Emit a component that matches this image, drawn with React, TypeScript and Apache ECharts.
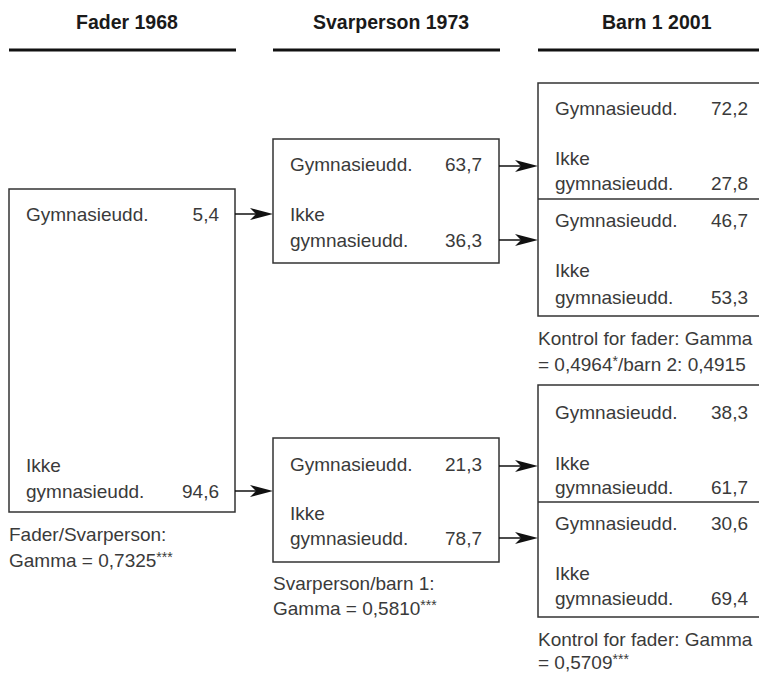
import React, { useEffect, useRef } from "react";
import * as echarts from "echarts";

// ---- data ----
const columnHeaders = ["Fader 1968", "Svarperson 1973", "Barn 1 2001"];
const categoryLabels = ["Gymnasieudd.", "Ikke", "gymnasieudd."];
const faderValues = [5.4, 94.6];
const svarpersonGivenGymValues = [63.7, 36.3];
const svarpersonGivenIkkeValues = [21.3, 78.7];
const barnGivenGymGymValues = [72.2, 27.8];
const barnGivenGymIkkeValues = [46.7, 53.3];
const barnGivenIkkeGymValues = [38.3, 61.7];
const barnGivenIkkeIkkeValues = [30.6, 69.4];
const captionFader = ["Fader/Svarperson:", "Gamma = 0,7325***"];
const captionSvarperson = ["Svarperson/barn 1:", "Gamma = 0,5810***"];
const captionBarnTop = ["Kontrol for fader: Gamma", "= 0,4964*/barn 2: 0,4915"];
const captionBarnBottom = ["Kontrol for fader: Gamma", "= 0,5709***"];

const fmt = (v: number) => v.toFixed(1).replace(".", ",");

const FONT = "'Liberation Sans', Arial, Helvetica, sans-serif";
const TEXT_COLOR = "#3a3a3a";
const LINE_COLOR = "#333333";

function txt(text: string, x: number, y: number, align: string = "left", opts: any = {}) {
  return {
    type: "text",
    x,
    y,
    silent: true,
    style: {
      text,
      fill: opts.fill || TEXT_COLOR,
      fontSize: opts.fontSize || 19,
      fontFamily: FONT,
      fontWeight: opts.fontWeight || "normal",
      textAlign: align,
      align,
      textVerticalAlign: "middle",
      verticalAlign: "middle",
    },
  };
}

// caption text with superscript asterisks
function captionTxt(text: string, x: number, y: number) {
  const parts = text.split(/(\*+)/).filter((p) => p.length);
  const formatted = parts
    .map((p) => (/^\*+$/.test(p) ? `{sup|${p}}` : `{n|${p}}`))
    .join("");
  return {
    type: "text",
    x,
    y,
    silent: true,
    style: {
      text: formatted,
      fill: TEXT_COLOR,
      fontSize: 19,
      fontFamily: FONT,
      textAlign: "left",
      align: "left",
      textVerticalAlign: "middle",
      verticalAlign: "middle",
      rich: {
        n: { fontSize: 19, fontFamily: FONT, fill: TEXT_COLOR, color: TEXT_COLOR, lineHeight: 20, verticalAlign: "bottom" },
        sup: {
          fontSize: 14,
          fontFamily: FONT,
          fill: TEXT_COLOR,
          color: TEXT_COLOR,
          lineHeight: 20,
          verticalAlign: "top",
        },
      },
    },
  };
}

function rect(x: number, y: number, w: number, h: number) {
  return {
    type: "rect",
    silent: true,
    shape: { x, y, width: w, height: h },
    style: { fill: "#ffffff", stroke: LINE_COLOR, lineWidth: 1.5 },
  };
}

function hline(x1: number, x2: number, y: number, w = 1.5, color = LINE_COLOR) {
  return {
    type: "line",
    silent: true,
    shape: { x1, y1: y, x2, y2: y },
    style: { stroke: color, lineWidth: w },
  };
}

function arrow(x1: number, x2: number, y: number) {
  return [
    hline(x1, x2 - 14, y, 1.5, "#111"),
    {
      type: "polygon",
      silent: true,
      shape: {
        points: [
          [x2, y],
          [x2 - 23, y - 6],
          [x2 - 17, y],
          [x2 - 23, y + 6],
        ],
      },
      style: { fill: "#111" },
    },
  ];
}

// rows: [gymY, ikkeY, gym2Y]
function rowTexts(values: number[], xl: number, xr: number, ys: number[]) {
  return [
    txt(categoryLabels[0], xl, ys[0]),
    txt(fmt(values[0]), xr, ys[0], "right"),
    txt(categoryLabels[1], xl, ys[1]),
    txt(categoryLabels[2], xl, ys[2]),
    txt(fmt(values[1]), xr, ys[2], "right"),
  ];
}

function buildGraphics() {
  const els: any[] = [];
  // headers
  const headerX = [76, 313, 602];
  const lineX = [
    [9, 236],
    [273, 500],
    [538, 760],
  ];
  columnHeaders.forEach((h, i) => {
    els.push(txt(h, headerX[i], 22, "left", { fontWeight: "bold", fontSize: 19.5, fill: "#1a1a1a" }));
    els.push(hline(lineX[i][0], lineX[i][1], 50, 3, "#111"));
  });

  // left box
  els.push(rect(9, 189, 226, 323));
  els.push(...rowTexts(faderValues, 26, 219, [214, 465, 491]));
  els.push(...arrow(235, 273, 214));
  els.push(...arrow(235, 273, 491));
  els.push(captionTxt(captionFader[0], 9, 534));
  els.push(captionTxt(captionFader[1], 9, 560));

  // middle boxes
  els.push(rect(273, 139, 226, 124));
  els.push(...rowTexts(svarpersonGivenGymValues, 290, 482, [164, 214, 240]));
  els.push(...arrow(499, 538, 166));
  els.push(...arrow(499, 538, 240));

  els.push(rect(273, 438, 226, 124));
  els.push(...rowTexts(svarpersonGivenIkkeValues, 290, 482, [464, 513, 538]));
  els.push(...arrow(499, 538, 466));
  els.push(...arrow(499, 538, 538));
  els.push(captionTxt(captionSvarperson[0], 273, 583));
  els.push(captionTxt(captionSvarperson[1], 273, 608));

  // right boxes
  els.push(rect(538, 83, 240, 233));
  els.push(hline(538, 760, 199));
  els.push(...rowTexts(barnGivenGymGymValues, 555, 748, [108, 158, 183]));
  els.push(...rowTexts(barnGivenGymIkkeValues, 555, 748, [220, 270, 297]));
  els.push(captionTxt(captionBarnTop[0], 538, 338));
  els.push(captionTxt(captionBarnTop[1], 538, 364));

  els.push(rect(538, 385, 240, 232));
  els.push(hline(538, 760, 502));
  els.push(...rowTexts(barnGivenIkkeGymValues, 555, 748, [412, 463, 487]));
  els.push(...rowTexts(barnGivenIkkeIkkeValues, 555, 748, [523, 573, 598]));
  els.push(captionTxt(captionBarnBottom[0], 538, 639));
  els.push(captionTxt(captionBarnBottom[1], 538, 662));

  return els;
}

export default function App() {
  const ref = useRef<HTMLDivElement>(null);
  useEffect(() => {
    if (!ref.current) return;
    const chart = echarts.init(ref.current, undefined, { renderer: "svg" });
    chart.setOption({
      animation: false,
      backgroundColor: "#ffffff",
      graphic: { elements: buildGraphics() },
    });
    return () => chart.dispose();
  }, []);
  return (
    <div
      ref={ref}
      style={{ position: "fixed", left: 0, top: 0, width: 759, height: 674, background: "#fff" }}
    />
  );
}
